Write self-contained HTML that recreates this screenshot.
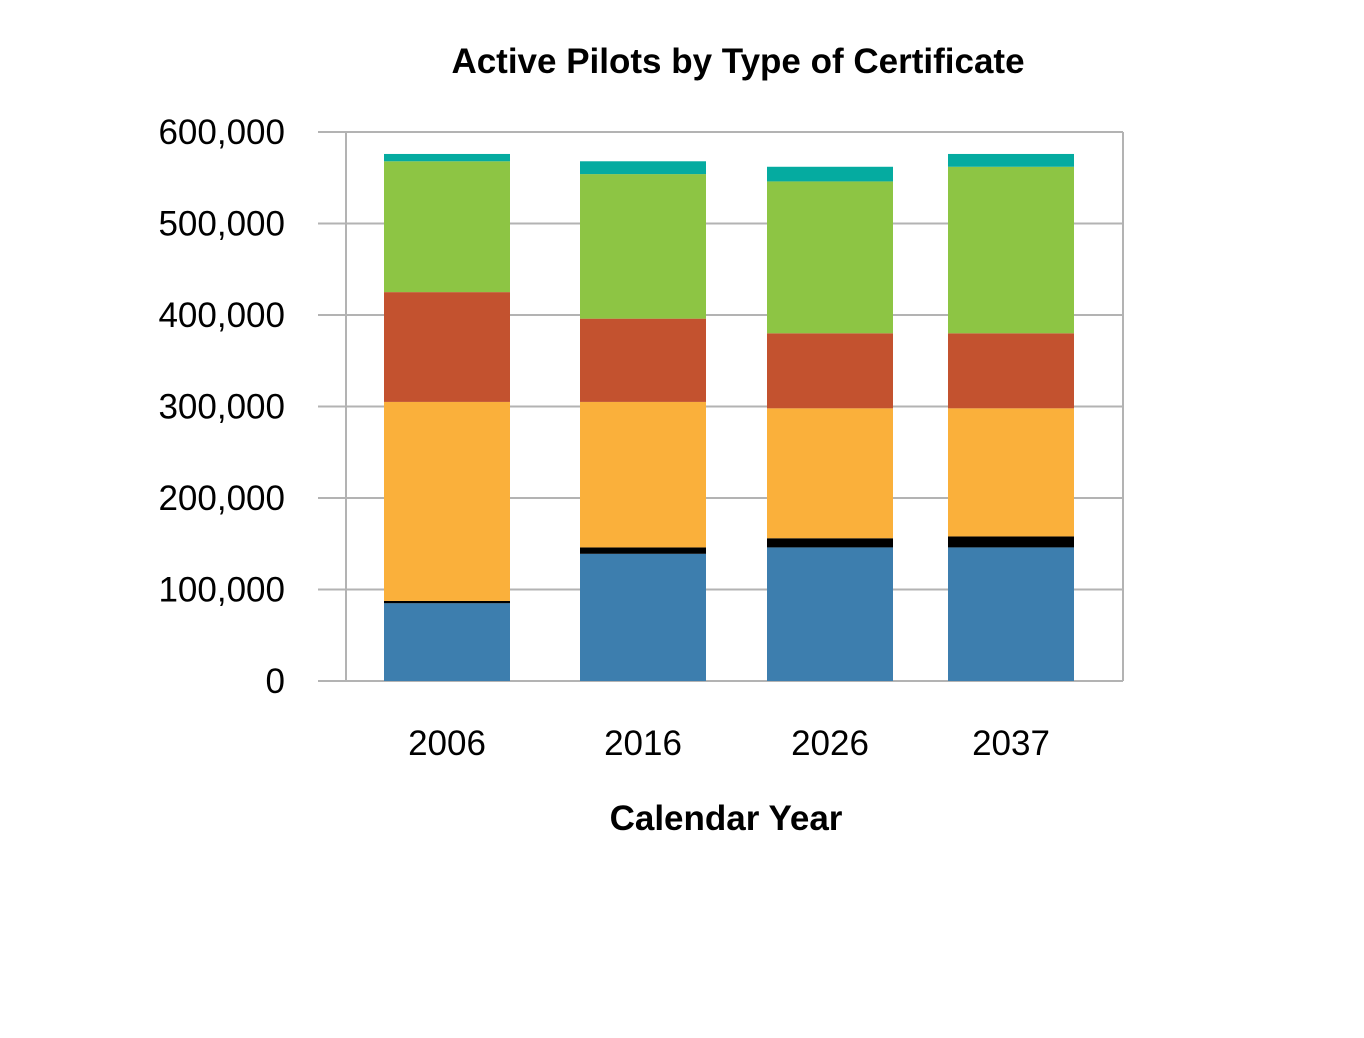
<!DOCTYPE html>
<html><head><meta charset="utf-8"><style>
html,body{margin:0;padding:0;background:#fff;}
svg{display:block;font-family:"Liberation Sans",sans-serif;}
</style></head><body>
<svg id="chart" width="1364" height="1038">
<text x="738" y="73" text-anchor="middle" font-size="35" font-weight="bold" fill="#000">Active Pilots by Type of Certificate</text>
<text x="726" y="830" text-anchor="middle" font-size="35" font-weight="bold" fill="#000">Calendar Year</text>
<g id="grid"></g><g id="bars"></g><g id="labels"></g>
</svg>
<script>
const years = ["2006","2016","2026","2037"];
const studentAndOther = [85000,139000,146000,146000];
const recreational = [2500,7000,10000,12000];
const privatePilot = [217500,159000,142000,140000];
const commercial = [120000,91000,82000,82000];
const airlineTransport = [143000,158000,166000,182000];
const other = [8000,14000,16000,14000];
const yTicks = [0,100000,200000,300000,400000,500000,600000];
const yTickLabels = ["0","100,000","200,000","300,000","400,000","500,000","600,000"];
const series = [studentAndOther,recreational,privatePilot,commercial,airlineTransport,other];
const seriesNames = ["student","recreational","private","commercial","airline-transport","other"];
const colors = ["#3d7eae","#000000","#fab03b","#c3522f","#8dc544","#05aba0"];
const NS="http://www.w3.org/2000/svg";
const y0=681, yTop=132, yMax=600000;
const y = v => y0 - v/yMax*(y0-yTop);
const barCenters0=[447,643,830,1011];
const x = i => barCenters0[i];
const bw=126;
const grid=document.getElementById('grid'), bars=document.getElementById('bars'), labels=document.getElementById('labels');
function mk(tag,attrs,parent){const e=document.createElementNS(NS,tag);for(const k in attrs)e.setAttribute(k,attrs[k]);parent.appendChild(e);return e;}
yTicks.forEach((t,i)=>{
  const l=mk('line',{x1:318,x2:1123,y1:y(t),y2:y(t),stroke:'#b3b3b3','stroke-width':2},grid);
  
  
  const tx=mk('text',{x:285,y:y(t)+12,'text-anchor':'end','font-size':35,fill:'#000'},labels);
  tx.textContent=yTickLabels[i];
  
  
});
const ax=mk('line',{x1:346,x2:346,y1:yTop,y2:y0,stroke:'#b3b3b3','stroke-width':2},grid);


const rx=mk('line',{x1:1123,x2:1123,y1:yTop,y2:y0,stroke:'#b3b3b3','stroke-width':2},grid);


years.forEach((yr,i)=>{
  let cum=0;
  series.forEach((s,j)=>{
    const v=s[i];
    const r=mk('rect',{x:x(i)-bw/2,y:y(cum+v),width:bw,height:y(cum)-y(cum+v),fill:colors[j]},bars);
    
    
    cum+=v;
  });
  const t=mk('text',{x:x(i),y:755,'text-anchor':'middle','font-size':35,fill:'#000'},labels);
  t.textContent=yr;
  
  
});
</script>
</body></html>
